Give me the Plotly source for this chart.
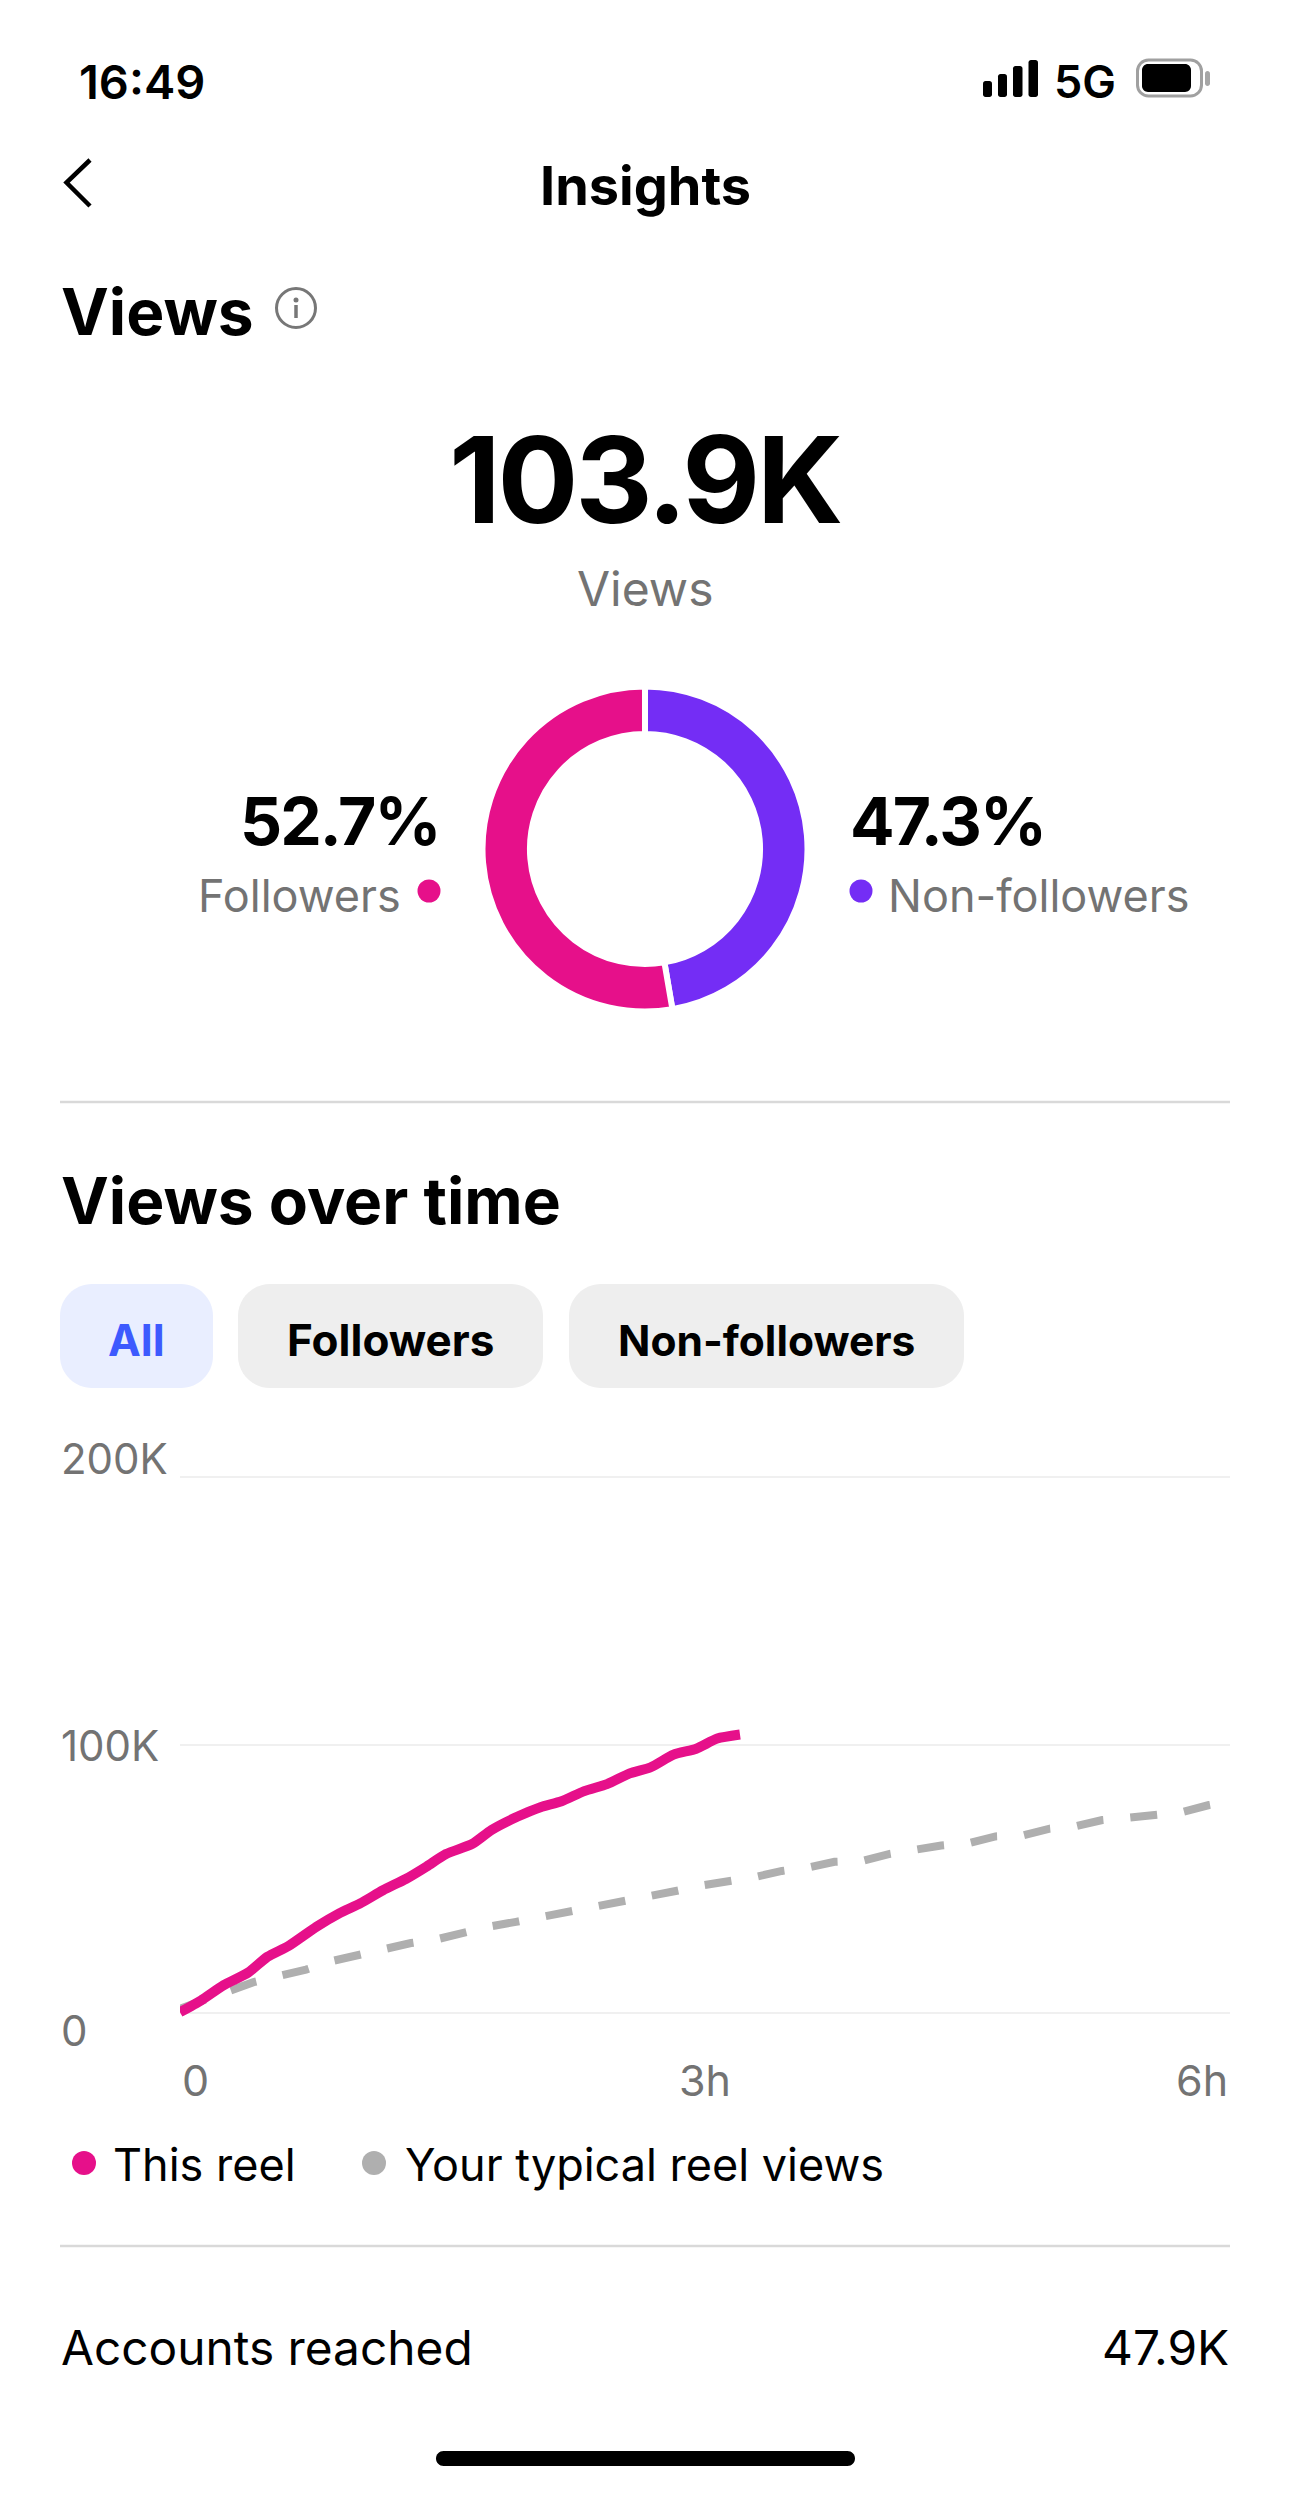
import plotly.graph_objects as go

W = 1290
H = 2496

PINK = "#E6108A"
PURPLE = "#742DF5"
GRAY_LINE = "#AFAFAF"
TEXT_GRAY = "#737373"
FONT = "Inter"

# donut
SHARE_LABELS = ["Non-followers", "Followers"]
SHARE_VALUES = [47.3, 52.7]

# views over time, hours / thousands
REEL_HOURS = [0.0, 0.12, 0.25, 0.39, 0.5, 0.62, 0.78, 0.91, 1.03, 1.16, 1.29, 1.41, 1.52,
              1.67, 1.78, 1.93, 2.06, 2.18, 2.31, 2.44, 2.57, 2.69, 2.82, 2.95, 3.07, 3.2]
REEL_VIEWS = [0.3, 4.7, 10.4, 15.1, 21.0, 25.0, 32.2, 37.2, 40.9, 45.8, 50.0, 54.7, 59.3,
              63.1, 68.3, 73.3, 76.8, 79.0, 82.8, 85.4, 89.4, 91.7, 96.4, 98.6, 102.4, 103.9]
TYPICAL_HOURS = [0.0, 0.28, 0.42, 0.57, 0.72, 0.87, 1.02, 1.17, 1.32, 1.48, 1.62, 1.78, 1.92,
                 2.08, 2.23, 2.38, 2.53, 2.69, 2.84, 2.99, 3.14, 3.29, 3.44, 3.6, 3.74, 3.9,
                 4.05, 4.2, 4.35, 4.51, 4.66, 4.82, 4.97, 5.12, 5.27, 5.42, 5.57, 5.73, 5.88, 6.0]
TYPICAL_VIEWS = [1.6, 8.3, 11.5, 13.9, 16.2, 19.4, 21.7, 23.3, 26.1, 27.7, 30.1, 32.4, 34.0,
                 35.9, 38.3, 40.2, 41.3, 43.2, 45.6, 47.7, 49.2, 50.8, 53.0, 54.4, 56.4, 56.8,
                 59.3, 61.0, 62.5, 63.4, 65.9, 66.3, 68.8, 69.7, 72.0, 72.9, 73.9, 75.0, 77.6, 79.0]
Y_TICKS = [0, 100, 200]
Y_LABELS = ["0", "100K", "200K"]
X_TICKS = [0, 3, 6]
X_LABELS = ["0", "3h", "6h"]


def px(x):
    return x / W


def py(y):
    return 1 - y / H


def label(x, y, text, size, color="#000000", anchor="left", weight=400, spacing=None):
    if spacing is not None:
        text = f'<span style="letter-spacing:{spacing}px">{text}</span>'
    return dict(x=px(x), y=py(y), xref="paper", yref="paper", text=text, showarrow=False,
                xanchor=anchor, yanchor="middle", borderpad=0,
                font=dict(family=FONT, size=size, color=color, weight=weight))


def box(x0, y0, x1, y1, r, fill, line=None, width=0):
    # rounded rectangle in page pixels
    k = r * 0.45
    pts = [
        ("M", (x0 + r, y0)), ("L", (x1 - r, y0)),
        ("C", (x1 - k, y0), (x1, y0 + k), (x1, y0 + r)), ("L", (x1, y1 - r)),
        ("C", (x1, y1 - k), (x1 - k, y1), (x1 - r, y1)), ("L", (x0 + r, y1)),
        ("C", (x0 + k, y1), (x0, y1 - k), (x0, y1 - r)), ("L", (x0, y0 + r)),
        ("C", (x0, y0 + k), (x0 + k, y0), (x0 + r, y0)),
    ]
    path = ""
    for p in pts:
        path += p[0] + " ".join(f"{px(a):.5f},{py(b):.5f}" for a, b in p[1:])
    return dict(type="path", xref="paper", yref="paper", path=path + "Z", fillcolor=fill,
                line=dict(color=line or fill, width=width), layer="above")


def dot(cx, cy, r, color):
    return dict(type="circle", xref="paper", yref="paper", x0=px(cx - r), x1=px(cx + r),
                y0=py(cy + r), y1=py(cy - r), fillcolor=color, line=dict(width=0))


def rule(x0, y0, x1, y1, color, width):
    return dict(type="line", xref="paper", yref="paper", x0=px(x0), x1=px(x1), y0=py(y0),
                y1=py(y1), line=dict(color=color, width=width))


fig = go.Figure()

fig.add_trace(go.Pie(
    labels=SHARE_LABELS,
    values=SHARE_VALUES,
    sort=False,
    direction="clockwise",
    rotation=0,
    hole=0.708,
    textinfo="none",
    showlegend=False,
    marker=dict(colors=[PURPLE, PINK], line=dict(color="#FFFFFF", width=6)),
    domain=dict(x=[px(645 - 162.5), px(645 + 162.5)], y=[py(849 + 162.5), py(849 - 162.5)]),
))

fig.add_trace(go.Scatter(
    x=TYPICAL_HOURS, y=TYPICAL_VIEWS, mode="lines", name="Your typical reel views",
    line=dict(color=GRAY_LINE, width=8, dash="27px,27px"), showlegend=False,
))
fig.add_trace(go.Scatter(
    x=REEL_HOURS, y=REEL_VIEWS, mode="lines", name="This reel", cliponaxis=False,
    line=dict(color=PINK, width=10, shape="spline", smoothing=0.6), showlegend=False,
))

shapes = [
    # status bar
    box(983, 81, 992, 97, 2.5, "#000000"),
    box(998, 74, 1007, 97, 2.5, "#000000"),
    box(1013, 66, 1022.5, 97, 2.5, "#000000"),
    box(1028.5, 60, 1038, 97, 2.5, "#000000"),
    box(1137.5, 60, 1201.5, 96, 11, "#FFFFFF", "#A0A0A0", 3),
    box(1142, 64, 1191, 92, 6, "#000000"),
    box(1205, 71, 1210, 86, 2.5, "#A6A6A6"),
    # back arrow
    dict(type="path", xref="paper", yref="paper",
         path=f"M{px(90)},{py(160)} L{px(66.5)},{py(182.5)} L{px(90)},{py(206)}",
         line=dict(color="#000000", width=4.5)),
    # info icon
    dict(type="circle", xref="paper", yref="paper", x0=px(276.5), x1=px(315.5), y0=py(327.5), y1=py(288.5),
         line=dict(color="#777777", width=3)),
    dot(296, 300, 2.5, "#777777"),
    rule(296, 305, 296, 318, "#777777", 3.5),
    # donut legend dots
    dot(429, 891, 11.5, PINK),
    dot(861, 891, 11.5, PURPLE),
    rule(60, 1102, 1230, 1102, "#D9D9D9", 2.5),
    # filter chips
    box(60, 1284, 213, 1388, 32, "#E9EEFF"),
    box(238, 1284, 543, 1388, 32, "#EEEEEE"),
    box(569, 1284, 964, 1388, 32, "#EEEEEE"),
    # chart legend
    dot(84, 2163, 12, PINK),
    dot(374, 2163, 12, GRAY_LINE),
    rule(60, 2246, 1230, 2246, "#D9D9D9", 2.5),
    # home bar
    box(436, 2451, 855, 2466, 7.5, "#000000"),
]

annotations = [
    label(78, 81, "16:49", 47, weight=600),
    label(1053, 81, "5G", 45, weight=600),
    label(645, 186, "Insights", 54, anchor="center", weight=700),
    label(60, 311, "Views", 64, weight=700),
    label(645, 480, "103.9K", 120, anchor="center", weight=700, spacing=-3.2),
    label(645, 588, "Views", 48, TEXT_GRAY, "center"),
    label(441, 821, "52.7%", 66, anchor="right", weight=700, spacing=-2),
    label(402, 895.5, "Followers", 45, TEXT_GRAY, "right"),
    label(849, 821, "47.3%", 66, weight=700, spacing=-2),
    label(887, 895.5, "Non-followers", 45, TEXT_GRAY),
    label(60, 1200, "Views over time", 64, weight=700),
    label(136, 1340, "All", 44, "#3D5AFE", "center", 700),
    label(390.5, 1340, "Followers", 44, anchor="center", weight=700),
    label(766, 1340, "Non-followers", 42.5, anchor="center", weight=700),
    label(112, 2164, "This reel", 45),
    label(404, 2164, "Your typical reel views", 45),
    label(60, 2348, "Accounts reached", 47.8),
    label(1230, 2348, "47.9K", 47.8, anchor="right"),
]

# tick labels sit off the ticks in the original, so they are placed by hand
y_shifts = [-17, 0, 19]
for value, text, shift in zip(Y_TICKS, Y_LABELS, y_shifts):
    annotations.append(dict(x=px(59), y=value, xref="paper", yref="y", text=text, showarrow=False,
                            xanchor="left", yanchor="middle", yshift=shift,
                            font=dict(family=FONT, size=42, color=TEXT_GRAY)))
x_anchors = ["left", "center", "right"]
for value, text, anchor in zip(X_TICKS, X_LABELS, x_anchors):
    annotations.append(dict(x=value, y=py(2080), xref="x", yref="paper", text=text, showarrow=False,
                            xanchor=anchor, yanchor="middle",
                            font=dict(family=FONT, size=43, color=TEXT_GRAY)))

fig.update_layout(
    width=W,
    height=H,
    autosize=False,
    margin=dict(l=0, r=0, t=0, b=0),
    paper_bgcolor="#FFFFFF",
    plot_bgcolor="#FFFFFF",
    showlegend=False,
    shapes=shapes,
    annotations=annotations,
    xaxis=dict(domain=[px(180), px(1230)], range=[0, 6], tickvals=X_TICKS, showticklabels=False,
               showgrid=False, zeroline=False, ticks=""),
    # range runs a little past 0 and 200 so those two gridlines are drawn
    yaxis=dict(domain=[py(2013 + 10.72), py(1477 - 10.72)], range=[-4, 204], tickvals=Y_TICKS,
               showticklabels=False, showgrid=True, gridcolor="#F0F0F0", gridwidth=2,
               zeroline=False, ticks=""),
)

fig.write_html("out.html", config={"displayModeBar": False},
               post_script="document.body.style.margin='0';")
